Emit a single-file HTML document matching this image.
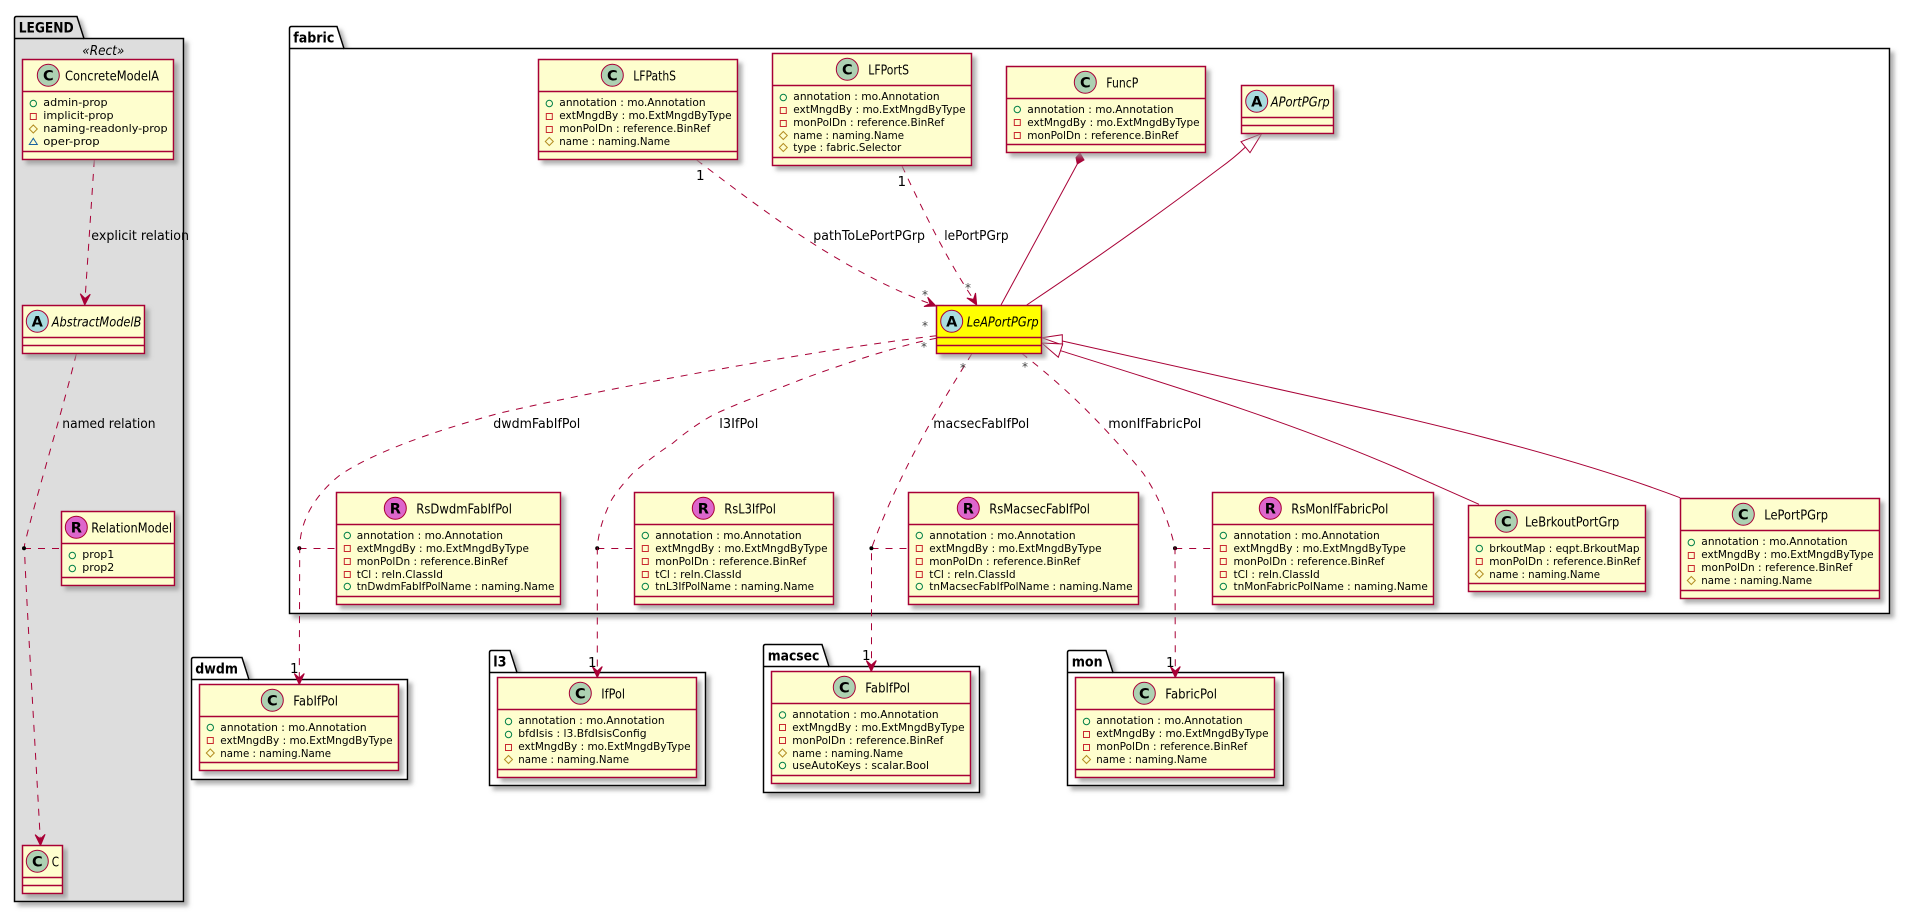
<!DOCTYPE html>
<html><head><meta charset="utf-8">
<style>
html,body{margin:0;padding:0;background:#fff;width:1909px;height:912px;overflow:hidden}
svg{display:block;font-family:"DejaVu Sans","Liberation Sans",sans-serif}
.c{fill:#FEFECE;stroke:#A80036;stroke-width:1.5;filter:url(#s)}
.y{fill:#FFFF00;stroke:#A80036;stroke-width:1.5;filter:url(#s)}
.l{stroke:#A80036;stroke-width:1.5;fill:none}
.d{stroke:#A80036;stroke-width:1;fill:none;stroke-dasharray:7,7}
.e{stroke:#A80036;stroke-width:1;fill:none}
.p{stroke:#000;stroke-width:1.5;fill:#fff;filter:url(#s)}
.n{font-weight:bold;font-size:14.5px;fill:#000}
.t{font-size:13.5px;fill:#000}
.i{font-size:13.5px;font-style:italic;fill:#000}
.a{font-size:11px;fill:#000}
.b{font-size:13.5px;fill:#000}
.m{font-size:13.5px;fill:#000}
.st{font-size:12px;fill:#444}
.k{font-size:14.5px;font-weight:bold;text-anchor:middle;fill:#000}
.q{stroke:#A80036;stroke-width:1}
</style></head><body>
<svg width="1909" height="912" viewBox="0 0 1909 912" xmlns="http://www.w3.org/2000/svg">
<defs>
<filter id="s" x="-10%" y="-10%" width="125%" height="125%"><feGaussianBlur in="SourceAlpha" stdDeviation="2"/><feOffset dx="4" dy="4"/><feColorMatrix values="0 0 0 0 0.3 0 0 0 0 0.3 0 0 0 0 0.3 0 0 0 0.75 0"/><feMerge><feMergeNode/><feMergeNode in="SourceGraphic"/></feMerge></filter>
<polygon id="ar" points="0,0 -5,-11 0,-6.5 5,-11" fill="#A80036" stroke="#A80036" stroke-width="1"/>
<circle id="ip" r="3.2" fill="none" stroke="#038048" stroke-width="1"/>
<rect id="im" x="-3" y="-3" width="6" height="6" fill="none" stroke="#C82930" stroke-width="1"/>
<polygon id="ih" points="0,-4 4,0 0,4 -4,0" fill="none" stroke="#B38D22" stroke-width="1"/>
<polygon id="io" points="0,-3.2 4,3 -4,3" fill="none" stroke="#1963A0" stroke-width="1"/>
</defs>

<!-- packages -->
<path class="p" style="fill:#DDDDDD" d="M14.5 38.5V18.5Q14.5 16.5 16.5 16.5H77L84 38.5H183.5V901.5H14.5Z"/>
<path d="M14.5 38.5H84" class="p" style="filter:none;fill:none"/>
<path class="p" d="M289.5 48.5V28.5Q289.5 26.5 291.5 26.5H337L344 48.5H1889.5V613.5H289.5Z"/>
<path d="M289.5 48.5H344" stroke="#000" stroke-width="1.5"/>
<path class="p" d="M191.5 679.5V659.5Q191.5 657.5 193.5 657.5H242L249 679.5H407.5V779.5H191.5Z"/>
<path d="M191.5 679.5H249" stroke="#000" stroke-width="1.5"/>
<path class="p" d="M489.5 672.5V652.5Q489.5 650.5 491.5 650.5H510L517 672.5H705.5V785.5H489.5Z"/>
<path d="M489.5 672.5H517" stroke="#000" stroke-width="1.5"/>
<path class="p" d="M763.5 666.5V646.5Q763.5 644.5 765.5 644.5H822L829 666.5H979.5V792.5H763.5Z"/>
<path d="M763.5 666.5H829" stroke="#000" stroke-width="1.5"/>
<path class="p" d="M1067.5 672.5V652.5Q1067.5 650.5 1069.5 650.5H1106L1113 672.5H1283.5V785.5H1067.5Z"/>
<path d="M1067.5 672.5H1113" stroke="#000" stroke-width="1.5"/>
<text class="n" x="18.7" y="32.3" textLength="55" lengthAdjust="spacingAndGlyphs">LEGEND</text>
<text class="n" x="293.3" y="42.3" textLength="41" lengthAdjust="spacingAndGlyphs">fabric</text>
<text class="n" x="195.3" y="673.3" textLength="42.7" lengthAdjust="spacingAndGlyphs">dwdm</text>
<text class="n" x="493.3" y="666.3" textLength="13.3" lengthAdjust="spacingAndGlyphs">l3</text>
<text class="n" x="767.7" y="660.3" textLength="51.7" lengthAdjust="spacingAndGlyphs">macsec</text>
<text class="n" x="1071.7" y="666.3" textLength="31" lengthAdjust="spacingAndGlyphs">mon</text>
<text class="i" style="font-size:13.5px" x="82.3" y="55" textLength="42" lengthAdjust="spacingAndGlyphs">«Rect»</text>

<!-- connectors -->
<path class="d" d="M94.3 160L85 300"/>
<path class="d" d="M76.3 354C60 420 35 500 24.5 545C24 560 36 760 40.3 840"/>
<path class="d" d="M24 548.5H61.5M299.5 548.5H336.5M597.3 548.5H634.5M871.5 548.5H908.5M1175.2 548.5H1212.5"/>
<circle cx="24" cy="548.3" r="2"/><circle cx="299.3" cy="548.3" r="2"/><circle cx="597.2" cy="548.3" r="2"/><circle cx="871.4" cy="548.3" r="2"/><circle cx="1175" cy="548.3" r="2"/>
<path class="d" d="M696.7 160C760 208 830 262 913 297C920 300 928 303 934 305"/>
<path class="d" d="M902 166C925 215 950 265 974 300"/>
<path class="d" d="M936.5 335.7C800 352 600 390 500 413C420 435 370 455 340 475C315 495 300 520 299.7 548.3L299.3 680"/>
<path class="d" d="M936.5 338.3C900 345 840 365 800 380C770 392 740 402 713 415C695 425 680 437 673 443C655 455 645 463 633 473C620 487 612 498 610 503C602 520 598 535 597.3 548.3V673"/>
<path class="d" d="M971.7 354C940 405 900 470 871.5 548.3V667"/>
<path class="d" d="M1021.7 353.3C1060 383 1100 420 1143 473C1160 498 1170 525 1175 548.3L1175.3 673"/>
<use href="#ar" transform="translate(84.7,305) rotate(3)"/>
<use href="#ar" transform="translate(40.5,845.5) rotate(-2)"/>
<use href="#ar" transform="translate(936,306) rotate(-68)"/>
<use href="#ar" transform="translate(976.7,305) rotate(-30)"/>
<use href="#ar" transform="translate(299.3,684.5)"/>
<use href="#ar" transform="translate(597.3,677.5)"/>
<use href="#ar" transform="translate(871.3,671.5)"/>
<use href="#ar" transform="translate(1175.3,677.5)"/>
<path class="e" d="M1077.3 164L1001 305"/>
<polygon points="1080,153 1076,157.7 1077.3,164 1084,160" fill="#A80036" stroke="#A80036"/>
<path class="e" d="M1245.5 147Q1234 158 1220 168Q1130 236 1026.7 305"/>
<polygon points="1261.7,133.7 1241,141.7 1250,152.7" fill="#fff" stroke="#A80036"/>
<path class="e" d="M1062.3 341L1300 394C1400 416 1560 452 1680 497.7"/>
<path class="e" d="M1060.5 350.7C1180 388 1300 425 1409 473.3L1479 504.3"/>
<polygon points="1041.7,337.7 1062.3,334.7 1062.3,345" fill="#fff" stroke="#A80036"/>
<polygon points="1041.7,343 1062.7,344 1058.3,357.3" fill="#fff" stroke="#A80036"/>

<!-- connector labels -->
<text class="b" x="91.3" y="240" textLength="97.7" lengthAdjust="spacingAndGlyphs">explicit relation</text>
<text class="b" x="62.3" y="428" textLength="93.3" lengthAdjust="spacingAndGlyphs">named relation</text>
<text class="b" x="813.3" y="240" textLength="111.7" lengthAdjust="spacingAndGlyphs">pathToLePortPGrp</text>
<text class="b" x="944.3" y="240" textLength="64.3" lengthAdjust="spacingAndGlyphs">lePortPGrp</text>
<text class="b" x="493.3" y="428" textLength="87" lengthAdjust="spacingAndGlyphs">dwdmFabIfPol</text>
<text class="b" x="719.3" y="428" textLength="39" lengthAdjust="spacingAndGlyphs">l3IfPol</text>
<text class="b" x="933.3" y="428" textLength="96" lengthAdjust="spacingAndGlyphs">macsecFabIfPol</text>
<text class="b" x="1108.3" y="428" textLength="93" lengthAdjust="spacingAndGlyphs">monIfFabricPol</text>
<text class="m" x="696" y="180">1</text>
<text class="m" x="897.5" y="186">1</text>
<text class="m" x="290" y="673">1</text>
<text class="m" x="588" y="667">1</text>
<text class="m" x="862" y="660">1</text>
<text class="m" x="1166" y="667">1</text>
<text class="st" x="922" y="299">*</text>
<text class="st" x="965" y="292">*</text>
<text class="st" x="922" y="330">*</text>
<text class="st" x="921" y="351">*</text>
<text class="st" x="960" y="372">*</text>
<text class="st" x="1022" y="371">*</text>

<!-- ConcreteModelA -->
<rect class="c" x="22.5" y="59.5" width="151" height="100"/><path class="l" d="M22.5 91.5H173.5M22.5 151.5H173.5"/>
<circle cx="48.3" cy="75.3" r="11" fill="#ADD1B2" class="q"/><text class="k" x="48.3" y="80.5">C</text>
<text class="t" x="65" y="80.5" textLength="94" lengthAdjust="spacingAndGlyphs">ConcreteModelA</text>
<g transform="translate(22.5,91.5)"><use href="#ip" x="10.8" y="12"/><use href="#im" x="10.8" y="25"/><use href="#ih" x="10.8" y="37.5"/><use href="#io" x="10.8" y="50"/>
<text class="a" x="20.8" y="14.5" textLength="64.3" lengthAdjust="spacingAndGlyphs">admin-prop</text><text class="a" x="20.8" y="27.5" textLength="70.3" lengthAdjust="spacingAndGlyphs">implicit-prop</text><text class="a" x="20.8" y="40.5" textLength="124.3" lengthAdjust="spacingAndGlyphs">naming-readonly-prop</text><text class="a" x="20.8" y="53.5" textLength="56.3" lengthAdjust="spacingAndGlyphs">oper-prop</text></g>

<!-- AbstractModelB -->
<rect class="c" x="22.5" y="305.5" width="122" height="48"/><path class="l" d="M22.5 337.5H144.5M22.5 345.5H144.5"/>
<circle cx="37.3" cy="321.3" r="11" fill="#A9DCDF" class="q"/><text class="k" x="37.3" y="326.5">A</text>
<text class="i" x="51.7" y="326.5" textLength="89.7" lengthAdjust="spacingAndGlyphs">AbstractModelB</text>

<!-- RelationModel -->
<rect class="c" x="61.5" y="511.5" width="113" height="74"/><path class="l" d="M61.5 543.5H174.5M61.5 577.5H174.5"/>
<circle cx="76.3" cy="527.3" r="11" fill="#DD66CC" class="q"/><text class="k" x="76.3" y="532.5">R</text>
<text class="t" x="91.3" y="532.5" textLength="80.7" lengthAdjust="spacingAndGlyphs">RelationModel</text>
<g transform="translate(61.5,543.5)"><use href="#ip" x="10.8" y="12"/><use href="#ip" x="10.8" y="25"/>
<text class="a" x="20.8" y="14.5" textLength="32" lengthAdjust="spacingAndGlyphs">prop1</text><text class="a" x="20.8" y="27.5" textLength="32" lengthAdjust="spacingAndGlyphs">prop2</text></g>

<!-- C -->
<rect class="c" x="22.5" y="845.5" width="40" height="48"/><path class="l" d="M22.5 877.5H62.5M22.5 885.5H62.5"/>
<circle cx="37.3" cy="861.3" r="11" fill="#ADD1B2" class="q"/><text class="k" x="37.3" y="866.5">C</text>
<text class="t" x="51.7" y="866.5" textLength="7.3" lengthAdjust="spacingAndGlyphs">C</text>

<!-- LFPathS -->
<rect class="c" x="538.5" y="59.5" width="199" height="100"/><path class="l" d="M538.5 91.5H737.5M538.5 151.5H737.5"/>
<circle cx="612.3" cy="75.3" r="11" fill="#ADD1B2" class="q"/><text class="k" x="612.3" y="80.5">C</text>
<text class="t" x="633.3" y="80.5" textLength="42.7" lengthAdjust="spacingAndGlyphs">LFPathS</text>
<g transform="translate(538.5,91.5)"><use href="#ip" x="10.8" y="12"/><use href="#im" x="10.8" y="25"/><use href="#im" x="10.8" y="38"/><use href="#ih" x="10.8" y="50"/>
<text class="a" x="20.8" y="14.5" textLength="146.3" lengthAdjust="spacingAndGlyphs">annotation : mo.Annotation</text><text class="a" x="20.8" y="27.5" textLength="172.3" lengthAdjust="spacingAndGlyphs">extMngdBy : mo.ExtMngdByType</text><text class="a" x="20.8" y="40.5" textLength="151" lengthAdjust="spacingAndGlyphs">monPolDn : reference.BinRef</text><text class="a" x="20.8" y="53.5" textLength="110.7" lengthAdjust="spacingAndGlyphs">name : naming.Name</text></g>

<!-- LFPortS -->
<rect class="c" x="772.5" y="53.5" width="199" height="112"/><path class="l" d="M772.5 85.5H971.5M772.5 157.5H971.5"/>
<circle cx="847.3" cy="69.3" r="11" fill="#ADD1B2" class="q"/><text class="k" x="847.3" y="74.5">C</text>
<text class="t" x="868.3" y="74.5" textLength="40.7" lengthAdjust="spacingAndGlyphs">LFPortS</text>
<g transform="translate(772.5,85.5)"><use href="#ip" x="10.8" y="12"/><use href="#im" x="10.8" y="25"/><use href="#im" x="10.8" y="38"/><use href="#ih" x="10.8" y="50"/><use href="#ih" x="10.8" y="62"/>
<text class="a" x="20.8" y="14.5" textLength="146.3" lengthAdjust="spacingAndGlyphs">annotation : mo.Annotation</text><text class="a" x="20.8" y="27.5" textLength="172.3" lengthAdjust="spacingAndGlyphs">extMngdBy : mo.ExtMngdByType</text><text class="a" x="20.8" y="40.5" textLength="151" lengthAdjust="spacingAndGlyphs">monPolDn : reference.BinRef</text><text class="a" x="20.8" y="53.5" textLength="110.7" lengthAdjust="spacingAndGlyphs">name : naming.Name</text><text class="a" x="20.8" y="65.5" textLength="108" lengthAdjust="spacingAndGlyphs">type : fabric.Selector</text></g>

<!-- FuncP -->
<rect class="c" x="1006.5" y="66.5" width="199" height="86"/><path class="l" d="M1006.5 98.5H1205.5M1006.5 144.5H1205.5"/>
<circle cx="1085.3" cy="82.3" r="11" fill="#ADD1B2" class="q"/><text class="k" x="1085.3" y="87.5">C</text>
<text class="t" x="1106.3" y="87.5" textLength="32" lengthAdjust="spacingAndGlyphs">FuncP</text>
<g transform="translate(1006.5,98.5)"><use href="#ip" x="10.8" y="11"/><use href="#im" x="10.8" y="24"/><use href="#im" x="10.8" y="37"/>
<text class="a" x="20.8" y="14.5" textLength="146.3" lengthAdjust="spacingAndGlyphs">annotation : mo.Annotation</text><text class="a" x="20.8" y="27.5" textLength="172.3" lengthAdjust="spacingAndGlyphs">extMngdBy : mo.ExtMngdByType</text><text class="a" x="20.8" y="40.5" textLength="151" lengthAdjust="spacingAndGlyphs">monPolDn : reference.BinRef</text></g>

<!-- APortPGrp -->
<rect class="c" x="1241.5" y="85.5" width="92" height="48"/><path class="l" d="M1241.5 117.5H1333.5M1241.5 125.5H1333.5"/>
<circle cx="1256.7" cy="101.3" r="11" fill="#A9DCDF" class="q"/><text class="k" x="1256.7" y="106.5">A</text>
<text class="i" x="1270.7" y="106.5" textLength="59" lengthAdjust="spacingAndGlyphs">APortPGrp</text>

<!-- LeAPortPGrp -->
<rect class="y" x="936.5" y="305.5" width="105" height="48"/><path class="l" d="M936.5 337.5H1041.5M936.5 345.5H1041.5"/>
<circle cx="951.7" cy="321.3" r="11" fill="#A9DCDF" class="q"/><text class="k" x="951.7" y="326.5">A</text>
<text class="i" x="966.7" y="326.5" textLength="72" lengthAdjust="spacingAndGlyphs">LeAPortPGrp</text>

<!-- RsDwdmFabIfPol -->
<rect class="c" x="336.5" y="492.5" width="224" height="112"/><path class="l" d="M336.5 524.5H560.5M336.5 596.5H560.5"/>
<circle cx="395.3" cy="508.3" r="11" fill="#DD66CC" class="q"/><text class="k" x="395.3" y="513.5">R</text>
<text class="t" x="416.3" y="513.5" textLength="95.7" lengthAdjust="spacingAndGlyphs">RsDwdmFabIfPol</text>
<g transform="translate(336.5,524.5)"><use href="#ip" x="10.8" y="11"/><use href="#im" x="10.8" y="24"/><use href="#im" x="10.8" y="37"/><use href="#im" x="10.8" y="50"/><use href="#ip" x="10.8" y="62"/>
<text class="a" x="20.2" y="14.5" textLength="146.3" lengthAdjust="spacingAndGlyphs">annotation : mo.Annotation</text><text class="a" x="20.2" y="27.5" textLength="172.3" lengthAdjust="spacingAndGlyphs">extMngdBy : mo.ExtMngdByType</text><text class="a" x="20.2" y="40.5" textLength="151" lengthAdjust="spacingAndGlyphs">monPolDn : reference.BinRef</text><text class="a" x="20.2" y="53.5" textLength="86.3" lengthAdjust="spacingAndGlyphs">tCl : reln.ClassId</text><text class="a" x="20.2" y="65.5" textLength="197.7" lengthAdjust="spacingAndGlyphs">tnDwdmFabIfPolName : naming.Name</text></g>

<!-- RsL3IfPol -->
<rect class="c" x="634.5" y="492.5" width="199" height="112"/><path class="l" d="M634.5 524.5H833.5M634.5 596.5H833.5"/>
<circle cx="703.3" cy="508.3" r="11" fill="#DD66CC" class="q"/><text class="k" x="703.3" y="513.5">R</text>
<text class="t" x="724.3" y="513.5" textLength="51.7" lengthAdjust="spacingAndGlyphs">RsL3IfPol</text>
<g transform="translate(634.5,524.5)"><use href="#ip" x="10.8" y="11"/><use href="#im" x="10.8" y="24"/><use href="#im" x="10.8" y="37"/><use href="#im" x="10.8" y="50"/><use href="#ip" x="10.8" y="62"/>
<text class="a" x="20.8" y="14.5" textLength="146.3" lengthAdjust="spacingAndGlyphs">annotation : mo.Annotation</text><text class="a" x="20.8" y="27.5" textLength="172.3" lengthAdjust="spacingAndGlyphs">extMngdBy : mo.ExtMngdByType</text><text class="a" x="20.8" y="40.5" textLength="151" lengthAdjust="spacingAndGlyphs">monPolDn : reference.BinRef</text><text class="a" x="20.8" y="53.5" textLength="86.3" lengthAdjust="spacingAndGlyphs">tCl : reln.ClassId</text><text class="a" x="20.8" y="65.5" textLength="158.7" lengthAdjust="spacingAndGlyphs">tnL3IfPolName : naming.Name</text></g>

<!-- RsMacsecFabIfPol -->
<rect class="c" x="908.5" y="492.5" width="230" height="112"/><path class="l" d="M908.5 524.5H1138.5M908.5 596.5H1138.5"/>
<circle cx="968.3" cy="508.3" r="11" fill="#DD66CC" class="q"/><text class="k" x="968.3" y="513.5">R</text>
<text class="t" x="989.3" y="513.5" textLength="100.7" lengthAdjust="spacingAndGlyphs">RsMacsecFabIfPol</text>
<g transform="translate(908.5,524.5)"><use href="#ip" x="10.8" y="11"/><use href="#im" x="10.8" y="24"/><use href="#im" x="10.8" y="37"/><use href="#im" x="10.8" y="50"/><use href="#ip" x="10.8" y="62"/>
<text class="a" x="20.8" y="14.5" textLength="146.3" lengthAdjust="spacingAndGlyphs">annotation : mo.Annotation</text><text class="a" x="20.8" y="27.5" textLength="172.3" lengthAdjust="spacingAndGlyphs">extMngdBy : mo.ExtMngdByType</text><text class="a" x="20.8" y="40.5" textLength="151" lengthAdjust="spacingAndGlyphs">monPolDn : reference.BinRef</text><text class="a" x="20.8" y="53.5" textLength="86.3" lengthAdjust="spacingAndGlyphs">tCl : reln.ClassId</text><text class="a" x="20.8" y="65.5" textLength="203.3" lengthAdjust="spacingAndGlyphs">tnMacsecFabIfPolName : naming.Name</text></g>

<!-- RsMonIfFabricPol -->
<rect class="c" x="1212.5" y="492.5" width="221" height="112"/><path class="l" d="M1212.5 524.5H1433.5M1212.5 596.5H1433.5"/>
<circle cx="1270.3" cy="508.3" r="11" fill="#DD66CC" class="q"/><text class="k" x="1270.3" y="513.5">R</text>
<text class="t" x="1291.3" y="513.5" textLength="97" lengthAdjust="spacingAndGlyphs">RsMonIfFabricPol</text>
<g transform="translate(1212.5,524.5)"><use href="#ip" x="10.8" y="11"/><use href="#im" x="10.8" y="24"/><use href="#im" x="10.8" y="37"/><use href="#im" x="10.8" y="50"/><use href="#ip" x="10.8" y="62"/>
<text class="a" x="21" y="14.5" textLength="146.3" lengthAdjust="spacingAndGlyphs">annotation : mo.Annotation</text><text class="a" x="21" y="27.5" textLength="172.3" lengthAdjust="spacingAndGlyphs">extMngdBy : mo.ExtMngdByType</text><text class="a" x="21" y="40.5" textLength="151" lengthAdjust="spacingAndGlyphs">monPolDn : reference.BinRef</text><text class="a" x="21" y="53.5" textLength="86.3" lengthAdjust="spacingAndGlyphs">tCl : reln.ClassId</text><text class="a" x="21" y="65.5" textLength="194.3" lengthAdjust="spacingAndGlyphs">tnMonFabricPolName : naming.Name</text></g>

<!-- LeBrkoutPortGrp -->
<rect class="c" x="1468.5" y="505.5" width="177" height="86"/><path class="l" d="M1468.5 537.5H1645.5M1468.5 583.5H1645.5"/>
<circle cx="1506.3" cy="521.3" r="11" fill="#ADD1B2" class="q"/><text class="k" x="1506.3" y="526.5">C</text>
<text class="t" x="1525" y="526.5" textLength="94.3" lengthAdjust="spacingAndGlyphs">LeBrkoutPortGrp</text>
<g transform="translate(1468.5,537.5)"><use href="#ip" x="10.8" y="11"/><use href="#im" x="10.8" y="24"/><use href="#ih" x="10.8" y="36.5"/>
<text class="a" x="20.8" y="14.5" textLength="150.3" lengthAdjust="spacingAndGlyphs">brkoutMap : eqpt.BrkoutMap</text><text class="a" x="20.8" y="27.5" textLength="151" lengthAdjust="spacingAndGlyphs">monPolDn : reference.BinRef</text><text class="a" x="20.8" y="40.5" textLength="110.7" lengthAdjust="spacingAndGlyphs">name : naming.Name</text></g>

<!-- LePortPGrp -->
<rect class="c" x="1680.5" y="498.5" width="199" height="100"/><path class="l" d="M1680.5 530.5H1879.5M1680.5 590.5H1879.5"/>
<circle cx="1743.3" cy="514.3" r="11" fill="#ADD1B2" class="q"/><text class="k" x="1743.3" y="519.5">C</text>
<text class="t" x="1764.3" y="519.5" textLength="63.7" lengthAdjust="spacingAndGlyphs">LePortPGrp</text>
<g transform="translate(1680.5,530.5)"><use href="#ip" x="10.8" y="12"/><use href="#im" x="10.8" y="25"/><use href="#im" x="10.8" y="38"/><use href="#ih" x="10.8" y="50"/>
<text class="a" x="20.8" y="14.5" textLength="146.3" lengthAdjust="spacingAndGlyphs">annotation : mo.Annotation</text><text class="a" x="20.8" y="27.5" textLength="172.3" lengthAdjust="spacingAndGlyphs">extMngdBy : mo.ExtMngdByType</text><text class="a" x="20.8" y="40.5" textLength="151" lengthAdjust="spacingAndGlyphs">monPolDn : reference.BinRef</text><text class="a" x="20.8" y="53.5" textLength="110.7" lengthAdjust="spacingAndGlyphs">name : naming.Name</text></g>

<!-- dwdm FabIfPol -->
<rect class="c" x="199.5" y="684.5" width="199" height="86"/><path class="l" d="M199.5 716.5H398.5M199.5 762.5H398.5"/>
<circle cx="272.3" cy="700.3" r="11" fill="#ADD1B2" class="q"/><text class="k" x="272.3" y="705.5">C</text>
<text class="t" x="293.3" y="705.5" textLength="44.7" lengthAdjust="spacingAndGlyphs">FabIfPol</text>
<g transform="translate(199.5,716.5)"><use href="#ip" x="10.8" y="11"/><use href="#im" x="10.8" y="24"/><use href="#ih" x="10.8" y="36.5"/>
<text class="a" x="20.8" y="14.5" textLength="146.3" lengthAdjust="spacingAndGlyphs">annotation : mo.Annotation</text><text class="a" x="20.8" y="27.5" textLength="172.3" lengthAdjust="spacingAndGlyphs">extMngdBy : mo.ExtMngdByType</text><text class="a" x="20.8" y="40.5" textLength="110.7" lengthAdjust="spacingAndGlyphs">name : naming.Name</text></g>

<!-- l3 IfPol -->
<rect class="c" x="497.5" y="677.5" width="199" height="100"/><path class="l" d="M497.5 709.5H696.5M497.5 769.5H696.5"/>
<circle cx="580.3" cy="693.3" r="11" fill="#ADD1B2" class="q"/><text class="k" x="580.3" y="698.5">C</text>
<text class="t" x="601.3" y="698.5" textLength="23.7" lengthAdjust="spacingAndGlyphs">IfPol</text>
<g transform="translate(497.5,709.5)"><use href="#ip" x="11" y="12"/><use href="#ip" x="11" y="25"/><use href="#im" x="11" y="38"/><use href="#ih" x="11" y="50"/>
<text class="a" x="20.8" y="14.5" textLength="146.3" lengthAdjust="spacingAndGlyphs">annotation : mo.Annotation</text><text class="a" x="20.8" y="27.5" textLength="128.3" lengthAdjust="spacingAndGlyphs">bfdIsis : l3.BfdIsisConfig</text><text class="a" x="20.8" y="40.5" textLength="172.3" lengthAdjust="spacingAndGlyphs">extMngdBy : mo.ExtMngdByType</text><text class="a" x="20.8" y="53.5" textLength="110.7" lengthAdjust="spacingAndGlyphs">name : naming.Name</text></g>

<!-- macsec FabIfPol -->
<rect class="c" x="771.5" y="671.5" width="199" height="112"/><path class="l" d="M771.5 703.5H970.5M771.5 775.5H970.5"/>
<circle cx="844.3" cy="687.3" r="11" fill="#ADD1B2" class="q"/><text class="k" x="844.3" y="692.5">C</text>
<text class="t" x="865.3" y="692.5" textLength="44.7" lengthAdjust="spacingAndGlyphs">FabIfPol</text>
<g transform="translate(771.5,703.5)"><use href="#ip" x="11" y="11.5"/><use href="#im" x="11" y="24"/><use href="#im" x="11" y="37"/><use href="#ih" x="11" y="49.5"/><use href="#ip" x="11" y="62"/>
<text class="a" x="20.8" y="14.5" textLength="146.3" lengthAdjust="spacingAndGlyphs">annotation : mo.Annotation</text><text class="a" x="20.8" y="27.5" textLength="172.3" lengthAdjust="spacingAndGlyphs">extMngdBy : mo.ExtMngdByType</text><text class="a" x="20.8" y="40.5" textLength="151" lengthAdjust="spacingAndGlyphs">monPolDn : reference.BinRef</text><text class="a" x="20.8" y="53.5" textLength="110.7" lengthAdjust="spacingAndGlyphs">name : naming.Name</text><text class="a" x="20.8" y="65.5" textLength="136.7" lengthAdjust="spacingAndGlyphs">useAutoKeys : scalar.Bool</text></g>

<!-- mon FabricPol -->
<rect class="c" x="1075.5" y="677.5" width="199" height="100"/><path class="l" d="M1075.5 709.5H1274.5M1075.5 769.5H1274.5"/>
<circle cx="1144.3" cy="693.3" r="11" fill="#ADD1B2" class="q"/><text class="k" x="1144.3" y="698.5">C</text>
<text class="t" x="1165.3" y="698.5" textLength="51.7" lengthAdjust="spacingAndGlyphs">FabricPol</text>
<g transform="translate(1075.5,709.5)"><use href="#ip" x="11" y="12"/><use href="#im" x="11" y="25"/><use href="#im" x="11" y="38"/><use href="#ih" x="11" y="50"/>
<text class="a" x="20.8" y="14.5" textLength="146.3" lengthAdjust="spacingAndGlyphs">annotation : mo.Annotation</text><text class="a" x="20.8" y="27.5" textLength="172.3" lengthAdjust="spacingAndGlyphs">extMngdBy : mo.ExtMngdByType</text><text class="a" x="20.8" y="40.5" textLength="151" lengthAdjust="spacingAndGlyphs">monPolDn : reference.BinRef</text><text class="a" x="20.8" y="53.5" textLength="110.7" lengthAdjust="spacingAndGlyphs">name : naming.Name</text></g>
</svg>
</body></html>
